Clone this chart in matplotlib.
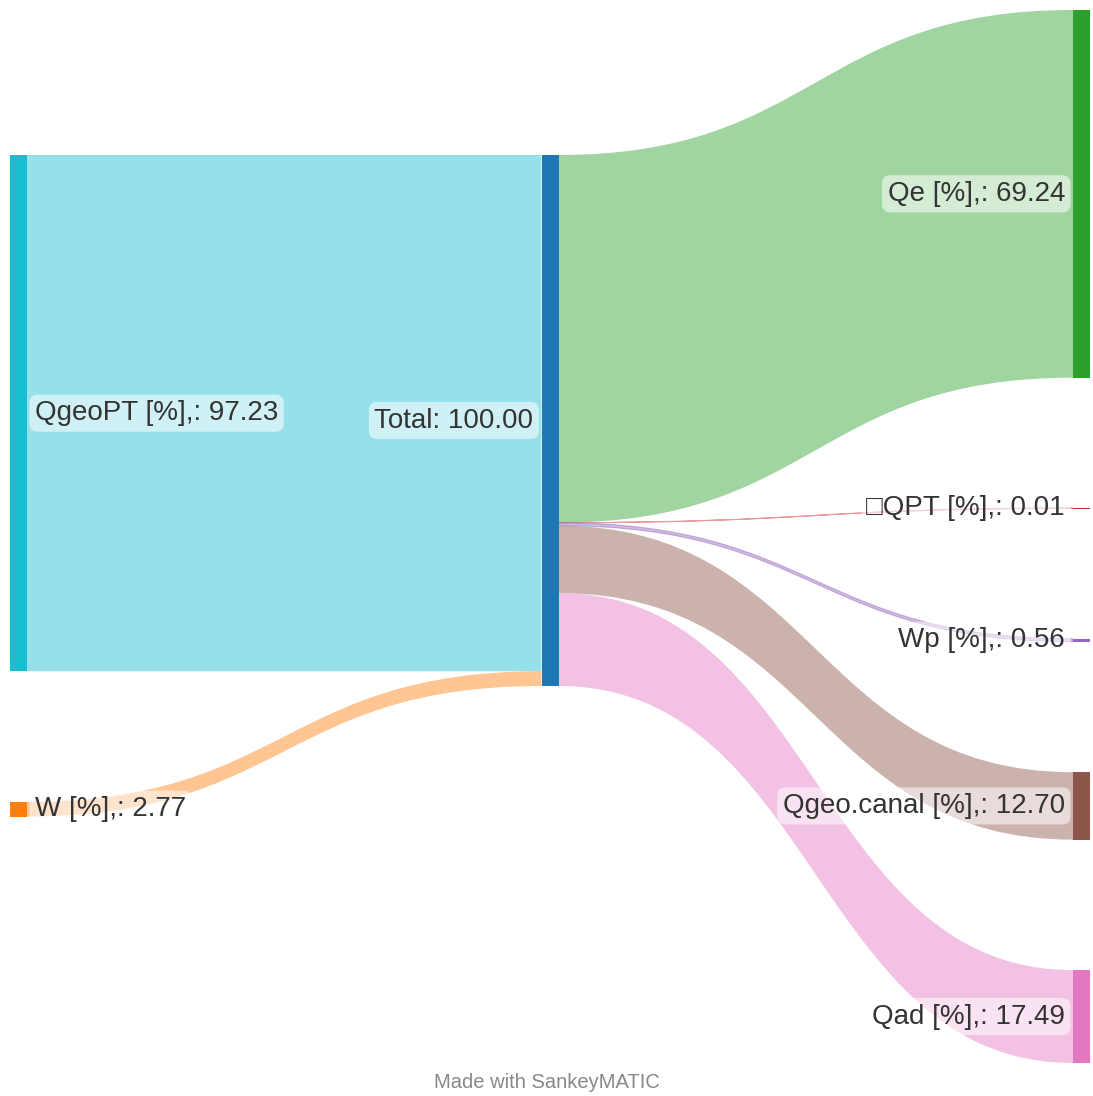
import numpy as np
import matplotlib.pyplot as plt
from matplotlib.path import Path
from matplotlib.patches import PathPatch, Rectangle

# dados do diagrama (percentuais)
in_labels = ['QgeoPT [%]', 'W [%]']
in_values = [97.23, 2.77]
in_colors = ['#17becf', '#ff7f0e']

total_label = 'Total'
total_color = '#1f77b4'

out_labels = ['Qe [%]', '\u25a1QPT [%]', 'Wp [%]', 'Qgeo.canal [%]', 'Qad [%]']
out_values = [69.24, 0.01, 0.56, 12.70, 17.49]
out_colors = ['#2ca02c', '#d62728', '#9467bd', '#8c564b', '#e377c2']

W, H = 1093, 1096
plt.rcParams['font.family'] = ['Liberation Sans', 'DejaVu Sans']

fig = plt.figure(figsize=(W / 100, H / 100), dpi=100)
ax = fig.add_axes([0, 0, 1, 1])
ax.set_xlim(0, W)
ax.set_ylim(H, 0)
ax.axis('off')

# layout
top, bottom = 10, 1063
node_w = 17
col_x = np.linspace(10, 1073, 3)
total = sum(out_values)
ky = 5.31
gap = ((bottom - top) - ky * total) / (len(out_values) - 1)
mid_top = 155


def draw_node(x, y0, h, color):
    ax.add_patch(Rectangle((x, y0), node_w, max(h, 1.2), color=color, lw=0, zorder=3))


def draw_link(x0, s0, s1, x1, t0, t1, color):
    xm = (x0 + x1) / 2
    verts = [(x0, s0), (xm, s0), (xm, t0), (x1, t0),
             (x1, t1), (xm, t1), (xm, s1), (x0, s1), (x0, s0)]
    codes = [Path.MOVETO, Path.CURVE4, Path.CURVE4, Path.CURVE4,
             Path.LINETO, Path.CURVE4, Path.CURVE4, Path.CURVE4, Path.CLOSEPOLY]
    fino = (s1 - s0) < 4
    ax.add_patch(PathPatch(Path(verts, codes), fc=color,
                           ec=color if fino else 'none', lw=0.8 if fino else 0,
                           alpha=0.45, zorder=1))


def label(x, y, txt, ha):
    ax.text(x, y, txt, ha=ha, va='center', fontsize=20, color='#333333', zorder=4,
            bbox=dict(boxstyle='round,pad=0.2,rounding_size=0.3', fc='white',
                      ec='none', alpha=0.55))


# coluna da esquerda
y = mid_top
mid_in = mid_top
for name, v, c in zip(in_labels, in_values, in_colors):
    h = v * ky
    draw_node(col_x[0], y, h, c)
    draw_link(col_x[0] + node_w, y, y + h, col_x[1], mid_in, mid_in + h, c)
    label(col_x[0] + node_w + 8, y + h / 2, f'{name},: {v:.2f}', 'left')
    mid_in += h
    y += h + gap

# coluna do meio
th = total * ky
draw_node(col_x[1], mid_top, th, total_color)
label(col_x[1] - 8, mid_top + th / 2, f'{total_label}: {total:.2f}', 'right')

# coluna da direita
y = top
mid_out = mid_top
for name, v, c in zip(out_labels, out_values, out_colors):
    h = v * ky
    draw_node(col_x[2], y, h, c)
    draw_link(col_x[1] + node_w, mid_out, mid_out + h, col_x[2], y, y + h, c)
    label(col_x[2] - 8, y + h / 2, f'{name},: {v:.2f}', 'right')
    mid_out += h
    y += h + gap

ax.text(W / 2, 1083, 'Made with SankeyMATIC', ha='center', va='center',
        fontsize=14.5, color='#888888')

fig.savefig('out.png', dpi=100, facecolor='white')
